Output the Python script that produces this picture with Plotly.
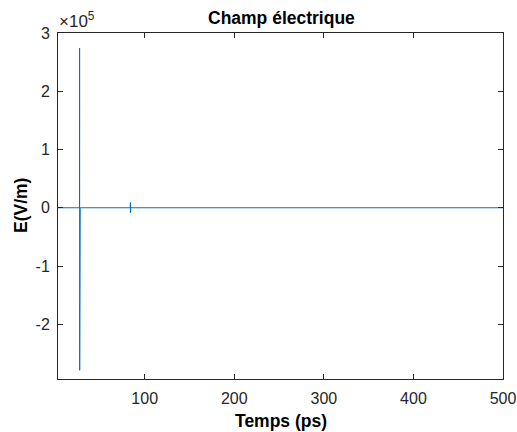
import plotly.graph_objects as go

# Data (time in ps, field in V/m)
temps_ps = [3.2, 27.2, 27.3, 27.4, 27.5, 27.6, 27.7, 27.8, 27.9, 28.0, 83.9, 84.0, 84.1, 84.2, 500.0]
champ_vm = [0, 0, 274000, -279000, 60000, -100000, 25000, -40000, 8000, 0, 0, 9000, -9000, 0, 0]

y_tick_vals = [-2, -1, 0, 1, 2, 3]
x_tick_vals = [100, 200, 300, 400, 500]
exponent = 5

title_text = "Champ électrique"
x_title = "Temps (ps)"
y_title = "E(V/m)"

font_family = "Liberation Sans, Arial, sans-serif"
axis_color = "#262626"

W, H = 517, 432
L, R, T, B = 58, 14, 33, 53
pw, ph = W - L - R, H - T - B

def px_x(p):
    return (p - L) / pw

def px_y(q):
    return (H - B - q) / ph

fig = go.Figure()
fig.add_trace(go.Scatter(
    x=temps_ps, y=champ_vm, mode="lines",
    line=dict(color="#0072BD", width=1),
    showlegend=False,
))

fig.update_layout(
    width=W, height=H,
    margin=dict(l=L, r=R, t=T, b=B, autoexpand=False),
    paper_bgcolor="white", plot_bgcolor="white",
    font=dict(family=font_family, size=16, color=axis_color),
)

fig.update_xaxes(
    range=[3.2, 500], tickvals=x_tick_vals, ticktext=[str(v) for v in x_tick_vals],
    ticks="inside", ticklen=5, tickcolor=axis_color, showline=True, linecolor=axis_color,
    linewidth=1, mirror="ticks", showgrid=False, zeroline=False, automargin=False,
    tickfont=dict(size=16, color=axis_color), ticklabelstandoff=5,
)
fig.update_yaxes(
    range=[-2.94e5, 3e5],
    tickvals=[v * 10 ** exponent for v in y_tick_vals],
    ticktext=[str(v) for v in y_tick_vals],
    ticks="inside", ticklen=5, tickcolor=axis_color, showline=True, linecolor=axis_color,
    linewidth=1, mirror="ticks", showgrid=False, zeroline=False, automargin=False,
    tickfont=dict(size=16, color=axis_color), ticklabelstandoff=4,
)

# title and axis titles
fig.add_annotation(text="<b>%s</b>" % title_text, xref="paper", yref="paper",
                   x=px_x(281), y=px_y(18), xanchor="center", yanchor="middle",
                   showarrow=False, font=dict(size=17.5, color="black"))
fig.add_annotation(text="<b>%s</b>" % x_title, xref="paper", yref="paper",
                   x=px_x(281), y=px_y(421), xanchor="center", yanchor="middle",
                   showarrow=False, font=dict(size=17.5, color="black"))
fig.add_annotation(text="<b>%s</b>" % y_title, xref="paper", yref="paper",
                   x=px_x(21), y=px_y(206), xanchor="center", yanchor="middle",
                   textangle=-90, showarrow=False, font=dict(size=17.5, color="black"))

fig.add_annotation(
    text="×10<sup>%d</sup>" % exponent, xref="paper", yref="paper",
    x=px_x(57), y=px_y(33), xanchor="left", yanchor="bottom", showarrow=False,
    font=dict(size=17, color=axis_color),
)

fig.write_html("out.html", config={"displayModeBar": False},
               post_script="document.body.style.margin='0';document.body.style.overflow='hidden';")
